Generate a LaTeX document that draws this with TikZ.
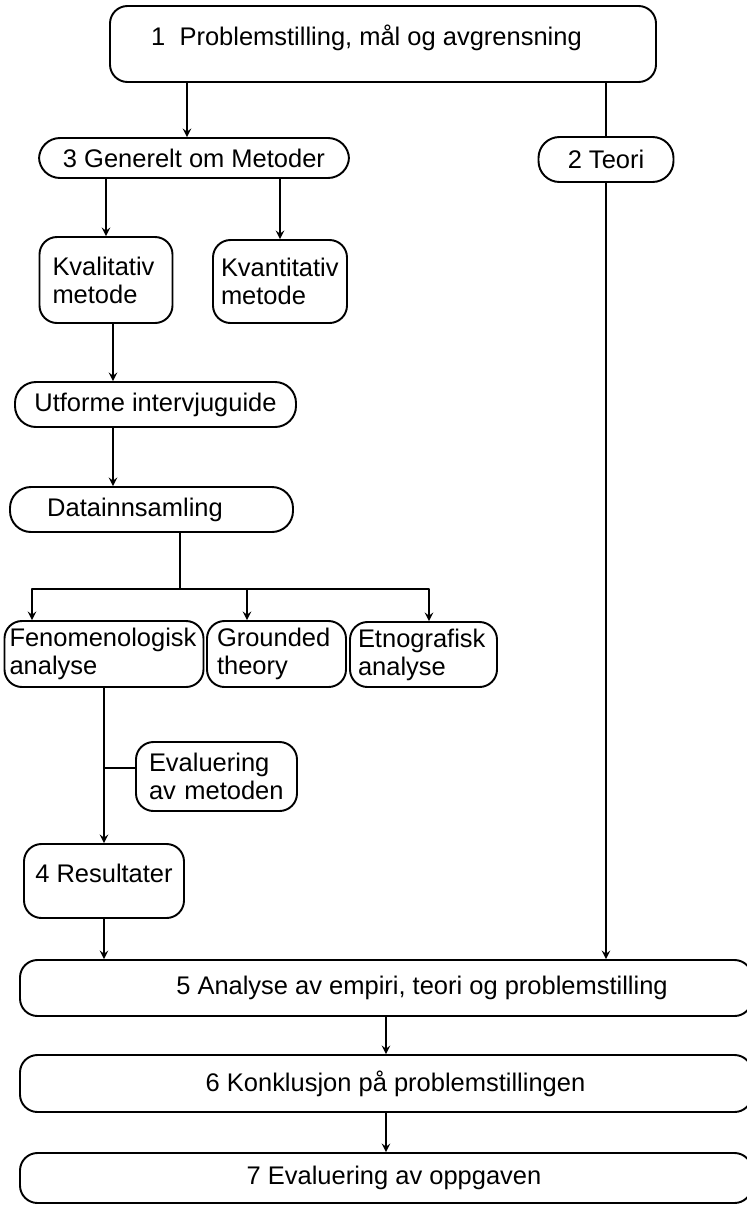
\documentclass[tikz,border=0pt]{standalone}
\usepackage{fontspec}
\setmainfont{Liberation Sans}
\begin{document}
\begin{tikzpicture}[scale=1, font=\fontsize{14.5pt}{15.9pt}\selectfont, line join=round, line cap=round, >=stealth, line width=1.1pt,
	box/.style={draw, rounded corners=0.35cm, inner sep=0pt},
	pill/.style={box, rounded corners=0.42cm},
	twoline/.style={box, align=left},
	raised/.style={text height=0.37cm, text depth=0.31cm}]
			\useasboundingbox (0,0) rectangle (14.92,-24.1);
			\node (p1) at (7.66,-0.88) [box, raised, minimum width=10.92cm, minimum height=1.52cm]{1\ \ Problemstilling, mål og avgrensning\hspace*{0.66cm}};
			\node (p3) at (3.88,-3.16) [pill, minimum width=6.2cm, minimum height=0.8cm]{3 Generelt om Metoder};
			\node (teori) at (12.12,-3.19) [pill, minimum width=2.7cm, minimum height=0.9cm]{2 Teori};
			\node (kval) at (2.12,-5.6) [twoline, text width=2.14cm, inner xsep=0.26cm, minimum height=1.72cm]{Kvalitativ\\metode};
			\node (kvant) at (5.6,-5.63) [twoline, text width=2.36cm, inner xsep=0.16cm, minimum height=1.66cm]{Kvantitativ\\metode};
			\node (utf) at (3.11,-8.09) [pill, minimum width=5.62cm, minimum height=0.9cm]{Utforme intervjuguide};
			\node (data) at (3.03,-10.19) [pill, minimum width=5.66cm, minimum height=0.9cm]{Datainnsamling\hspace*{0.66cm}};
			\node (feno) at (2.08,-13.08) [twoline, text width=3.78cm, inner xsep=0.1cm, minimum height=1.32cm]{Fenomenologisk\\analyse};
			\node (grounded) at (5.53,-13.08) [twoline, text width=2.38cm, inner xsep=0.2cm, minimum height=1.32cm]{Grounded\\theory};
			\node (etno) at (8.47,-13.09) [twoline, text width=2.62cm, inner xsep=0.16cm, minimum height=1.3cm]{Etnografisk\\analyse};
			\node (eval) at (4.33,-15.53) [twoline, text width=2.7cm, inner xsep=0.26cm, minimum height=1.38cm]{Evaluering\\av metoden};
			\node (res) at (2.08,-17.62) [box, raised, minimum width=3.2cm, minimum height=1.48cm]{4 Resultater};
			\node (b5) at (7.72,-19.76) [box, minimum width=14.64cm, minimum height=1.12cm]{\hspace*{1.44cm}5 Analyse av empiri, teori og problemstilling};
			\node (b6) at (7.72,-21.67) [box, minimum width=14.64cm, minimum height=1.14cm]{\hspace*{0.38cm}6 Konklusjon på problemstillingen};
			\node (b7) at (7.72,-23.56) [box, minimum width=14.64cm, minimum height=1cm]{\hspace*{0.32cm}7 Evaluering av oppgaven};
			\coordinate (ax) at (3.74,0);
			\coordinate (kx) at (2.26,0);
			\coordinate (split) at (3.6,-11.78);
			\draw[->] (p1.south -| ax) -- (p3.north -| ax);
			\draw (p1.south -| teori) -- (teori.north);
			\draw[->] (teori.south) -- (teori.south |- b5.north);
			\draw[->] (kval.north |- p3.south) -- (kval.north);
			\draw[->] (kvant.north |- p3.south) -- (kvant.north);
			\draw[->] (kval.south -| kx) -- (utf.north -| kx);
			\draw[->] (utf.south -| kx) -- (data.north -| kx);
			\draw (data.south -| split) -- (split);
			\draw[->] (split) -| ([xshift=-1.44cm]feno.north);
			\draw[->] (split) -| ([xshift=0.11cm]etno.north);
			\draw[->] ([xshift=-0.59cm]grounded.north |- split) -- ([xshift=-0.59cm]grounded.north);
			\draw[->] (feno.south) -- (res.north);
			\draw ([yshift=0.17cm]eval.west) -- ([yshift=0.17cm]eval.west -| feno.south);
			\draw[->] (res.south) -- (res.south |- b5.north);
			\draw[->] (b5.south) -- (b6.north);
			\draw[->] (b6.south) -- (b7.north);
		\end{tikzpicture}
\end{document}
